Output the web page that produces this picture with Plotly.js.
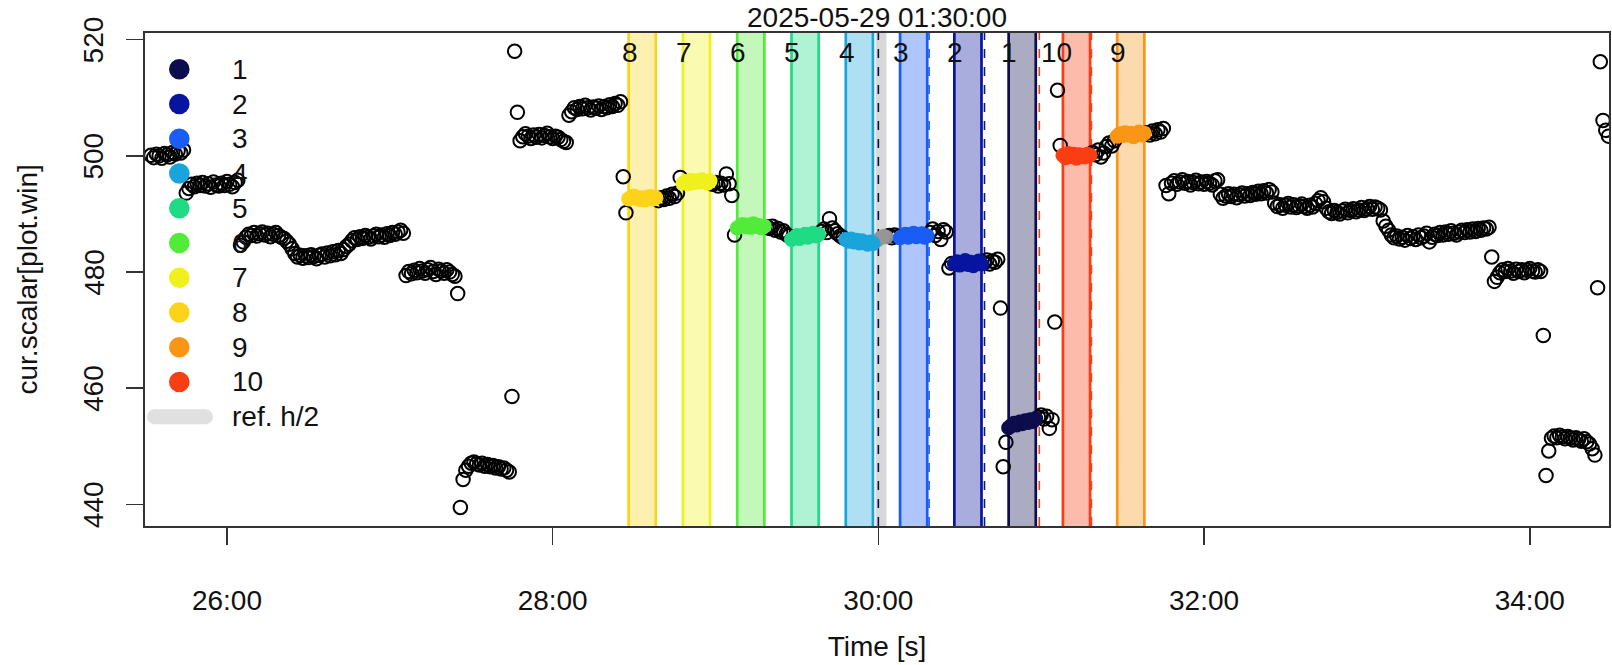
<!DOCTYPE html>
<html>
<head>
<meta charset="utf-8">
<script src="https://cdn.plot.ly/plotly-3.0.1.min.js"></script>
<style>html,body{margin:0;padding:0;background:#fff;}#chart{width:1612px;height:665px;}</style>
</head>
<body>
<div id="chart"></div>
<script>
// ---------------- DATA ----------------
const refTimeLabel = "2025-05-29 01:30:00";
// sample segments: start second (relative to 01:30:00), one sample per second
const segStartSec = [-268,-255,-235,-216,-195,-174,-155,-152,-135,-132,-114,-94,-92,-81,-72,-61,-52,-41,-32,-21,-12,-1,4,8,19,28,39,45,48,59,65,68,79,88,99,106,126,146,165,186,226,227,245,248,265];
const segValues = [
  [500.1,499.7,500.3,500.0,499.6,500.4,500.2,499.8,500.6,500.3,500.9,500.5,501.0],
  [493.6,494.4,495.1,494.7,495.3,494.9,495.4,494.8,495.2,494.6,495.5,495.0,494.8,495.3,494.9,495.6,495.1,494.7,495.4,495.8],
  [484.6,485.2,486.0,486.5,486.3,486.8,486.2,486.6,486.9,486.4,486.7,486.1,486.5,486.8,486.3,486.0,485.8,485.3,484.8],
  [484.0,483.2,482.6,482.9,482.4,482.8,482.5,483.0,482.7,482.3,482.9,483.1,482.6,483.3,482.8,483.5,483.0,483.7,483.2,483.9,484.4],
  [484.8,485.4,485.9,485.6,486.1,485.8,486.3,486.0,485.7,486.2,486.5,486.1,486.4,486.0,486.6,486.3,486.8,486.5,486.9,487.2,486.7],
  [479.4,480.1,479.7,480.3,479.9,480.6,480.2,479.8,480.4,480.8,480.1,479.6,480.5,480.2,479.8,480.4,480.0,479.6,479.3],
  [476.3,439.5,444.3],
  [445.9,446.6,447.1,447.3,447.0,446.8,447.1,446.6,446.9,446.5,446.7,446.3,446.5,446.1,446.3,445.9,445.6],
  [458.6,518.0,507.5],
  [502.6,503.3,503.8,503.4,503.0,503.6,503.2,503.7,503.1,503.5,503.9,503.3,503.0,503.4,503.2,502.8,502.5,502.3],
  [507.0,507.6,508.3,508.0,508.5,508.1,508.7,508.3,507.9,508.4,508.2,508.6,508.0,508.5,508.3,508.8,508.5,509.0,508.7,509.3],
  [496.4,490.2],
  [492.6,492.9,493.1,492.7,492.5,492.8,492.4,492.9,493.0,492.6,492.8],
  [492.3,492.8,492.5,493.1,492.7,493.4,493.0,493.6,496.3],
  [495.3,495.6,495.2,495.8,495.4,495.7,495.5,495.9,495.6,495.3,495.7],
  [495.1,495.4,494.8,495.3,495.0,496.9,495.2,493.2,486.4],
  [487.6,487.9,488.2,487.8,488.1,487.7,488.3,487.9,488.0,487.6,487.9],
  [487.8,487.5,487.9,487.2,487.5,486.9,487.1,486.5,486.2],
  [485.6,485.9,486.3,485.8,486.1,486.5,486.0,486.4,486.7,486.2,486.5],
  [487.0,487.4,486.8,489.2,487.6,487.1,486.6,486.2,485.9],
  [485.6,485.3,485.7,485.2,485.5,485.0,485.4,485.1,484.8,485.2,484.9],
  [485.3,485.6,485.9,486.2,486.0],
  [486.3,485.9,486.4,486.1],
  [485.9,486.2,486.5,486.0,486.4,486.7,486.1,486.3,486.6,486.0,486.2],
  [486.8,487.4,486.3,487.0,485.6,487.3,486.9,480.7,481.5],
  [481.4,481.8,481.2,481.6,482.0,481.3,481.7,481.1,481.5,481.9,481.4],
  [481.6,482.1,481.4,481.9,481.7,482.2],
  [473.8,446.5,450.7],
  [453.2,453.6,454.0,453.7,454.2,453.9,454.4,454.1,454.6,454.3,454.8],
  [455.0,455.4,454.7,455.2,453.1,454.6],
  [471.4,511.3,501.8],
  [500.1,499.7,500.4,499.9,500.3,499.6,500.2,500.0,499.8,500.3,500.1],
  [500.6,500.2,501.0,499.8,500.5,501.6,502.2,501.7,502.6],
  [503.4,503.8,503.5,504.0,503.6,503.9,503.3,503.7,504.1,503.6,503.9],
  [504.0,503.6,504.3,503.8,504.5,504.1,504.7],
  [494.9,493.5,495.3,495.7,495.1,495.5,495.9,495.3,495.6,495.0,495.4,495.8,495.2,495.5,495.1,495.6,495.3,495.0,495.7,495.9],
  [493.4,492.7,493.1,493.5,493.0,493.4,492.8,493.3,493.6,493.1,493.5,493.2,493.7,493.4,493.9,493.5,494.0,493.6,494.2,493.8],
  [491.9,491.3,491.6,491.0,491.5,491.8,491.2,491.6,491.1,491.4,491.7,491.3,491.0,491.5,491.2,491.8,492.3,492.8,492.1],
  [491.0,490.4,490.1,490.6,490.3,490.0,490.5,490.8,490.2,490.6,490.9,490.4,490.7,491.1,490.6,490.9,491.3,490.8,491.2,491.0,490.7],
  [488.8,487.9,487.2,486.4,485.9,486.2,485.7,486.0,485.5,486.3,485.8,486.1,485.6,486.4,485.9,486.2,486.7,485.2,486.0,486.5,486.3,486.8,486.4,486.9,486.5,487.1,486.7,486.4,486.9,487.2,486.8,487.3,486.9,487.4,487.0,487.5,487.2,487.6,487.4,487.7],
  [482.6],
  [478.4,479.1,479.9,480.4,480.1,480.6,480.2,479.8,480.5,480.1,480.4,479.9,480.3,480.6,480.2,480.0,480.4,480.1],
  [469.1,445.0,449.2],
  [451.4,451.8,451.5,451.9,451.6,451.3,451.7,451.4,451.1,451.5,451.2,450.9,451.3,450.8,450.4,449.6,448.5],
  [477.3,516.2,506.1,504.4,503.4]
];
// analysis windows (numbered), start second relative to 01:30:00, 10 s long
const bandIds = [8,7,6,5,4,3,2,1,10,9];
const bandStartSec = [-92,-72,-52,-32,-12,8,28,48,68,88];
const bandLengthSec = 10;
const bandColors = {1:"#0D0D4D",2:"#0714A0",3:"#1A5CF6",4:"#19A4DB",5:"#1EDB84",6:"#52EB3A",7:"#F0F01E",8:"#FDD31A",9:"#FA9516",10:"#FA3D12"};
// reference half-height window and dashed markers
const refWindowSec = [-1, 3];
const dashedMarkSec = [0, 18.7, 39.1, 59.3, 78.5];
const dashedMarkIds = [1, 3, 2, 10, 10];
const legendLabels = ["1","2","3","4","5","6","7","8","9","10"];
const xTickSec = [-240,-120,0,120,240];
const xTickLabels = ["26:00","28:00","30:00","32:00","34:00"];
const yTickVals = [440,460,480,500,520];
const xRangeSec = [-270.2, 269.2];
const yRange = [436.3, 521.15];

// ---------------- HELPERS ----------------
function ts(t){
  const tot = 1800 + t;
  const mm = Math.floor(tot/60);
  let ss = Math.round((tot - mm*60)*1000)/1000;
  return "2025-05-29 01:" + String(mm).padStart(2,"0") + ":" + (ss<10?"0":"") + ss;
}
const FONT = "Liberation Sans, Arial, Helvetica, sans-serif";

// build samples
const black = {x:[], y:[]};
const ref = {x:[], y:[]};
const perBand = {};
bandIds.forEach(id => perBand[id] = {x:[], y:[]});
segStartSec.forEach((s, i) => {
  segValues[i].forEach((v, k) => {
    const t = s + k;
    let bi = -1;
    bandStartSec.forEach((b, j) => { if (t >= b && t <= b + bandLengthSec) bi = j; });
    if (bi >= 0) { perBand[bandIds[bi]].x.push(ts(t)); perBand[bandIds[bi]].y.push(v); }
    else if (t >= refWindowSec[0] && t <= refWindowSec[1]) { ref.x.push(ts(t)); ref.y.push(v); }
    else { black.x.push(ts(t)); black.y.push(v); }
  });
});

const traces = [];
traces.push({type:"scatter", mode:"markers", x:black.x, y:black.y, showlegend:false, hoverinfo:"skip",
  marker:{symbol:"circle-open", size:13.5, color:"#000", line:{width:2, color:"#000"}}});
traces.push({type:"scatter", mode:"markers", x:ref.x, y:ref.y, showlegend:false, hoverinfo:"skip",
  marker:{symbol:"circle", size:14.5, color:"rgba(150,150,150,0.9)"}});
bandIds.forEach(id => {
  traces.push({type:"scatter", mode:"markers", x:perBand[id].x, y:perBand[id].y, showlegend:false, hoverinfo:"skip",
    marker:{symbol:"circle", size:15, color:bandColors[id]}});
});

// shapes: windows
const shapes = [];
bandIds.forEach((id, j) => {
  const s = bandStartSec[j], e = s + bandLengthSec;
  shapes.push({type:"rect", xref:"x", yref:"paper", x0:ts(s), x1:ts(e), y0:0, y1:1, fillcolor:bandColors[id], opacity:0.35, line:{width:0}, layer:"below"});
  [s, e].forEach(t => shapes.push({type:"line", xref:"x", yref:"paper", x0:ts(t), x1:ts(t), y0:0, y1:1, line:{color:bandColors[id], width:2.7}, layer:"below"}));
});
shapes.push({type:"rect", xref:"x", yref:"paper", x0:ts(refWindowSec[0]), x1:ts(refWindowSec[1]), y0:0, y1:1, fillcolor:"#D4D4D4", opacity:0.9, line:{width:0}, layer:"below"});
dashedMarkSec.forEach((t, i) => {
  shapes.push({type:"line", xref:"x", yref:"paper", x0:ts(t), x1:ts(t), y0:0, y1:1, line:{color:bandColors[dashedMarkIds[i]], width:1.6, dash:"dash"}, layer:"below"});
});

// legend (drawn manually, inside plot top-left)
const PL = 145, PR = 1609, PT = 33, PB = 526;
const px2x = p => (p - PL) / (PR - PL);
const px2y = p => (PB - p) / (PB - PT);
const annotations = [];
legendLabels.forEach((lab, i) => {
  const cy = 69.3 + i * 34.74;
  shapes.push({type:"circle", xref:"paper", yref:"paper", xsizemode:"pixel", ysizemode:"pixel",
    xanchor:px2x(179.3), yanchor:px2y(cy), x0:-10.3, x1:10.3, y0:-10.3, y1:10.3,
    fillcolor:bandColors[+lab], line:{width:0}, layer:"above"});
  annotations.push({xref:"paper", yref:"paper", x:px2x(230), y:px2y(cy), xanchor:"left", yanchor:"middle",
    text:lab, showarrow:false, font:{family:FONT, size:28, color:"#111"}});
});
{
  const cy = 69.3 + 10 * 34.74;
  shapes.push({type:"line", xref:"paper", yref:"paper", x0:px2x(154.5), x1:px2x(205.5), y0:px2y(cy), y1:px2y(cy), line:{color:"#E0E0E0", width:15}, layer:"above"});
  [154.5, 205.5].forEach(p => shapes.push({type:"circle", xref:"paper", yref:"paper", xsizemode:"pixel", ysizemode:"pixel",
    xanchor:px2x(p), yanchor:px2y(cy), x0:-7.5, x1:7.5, y0:-7.5, y1:7.5, fillcolor:"#E0E0E0", line:{width:0}, layer:"above"}));
  annotations.push({xref:"paper", yref:"paper", x:px2x(230), y:px2y(cy), xanchor:"left", yanchor:"middle",
    text:"ref. h/2", showarrow:false, font:{family:FONT, size:28, color:"#111"}});
}
// window labels
bandIds.forEach((id, j) => {
  annotations.push({xref:"x", yref:"paper", x:ts(bandStartSec[j] + 4), y:px2y(52.7), xanchor:"right", yanchor:"middle",
    text:String(id), showarrow:false, font:{family:FONT, size:28, color:"#111"}});
});
// y tick labels (R-style, parallel to axis) placed through the y scale
yTickVals.forEach(v => {
  annotations.push({xref:"paper", yref:"y", x:px2x(93.7), y:v, xanchor:"center", yanchor:"middle", textangle:-90,
    text:String(v), showarrow:false, font:{family:FONT, size:28, color:"#111"}});
});
// y axis title
annotations.push({xref:"paper", yref:"paper", x:px2x(27), y:0.5, xanchor:"center", yanchor:"middle", textangle:-90,
  text:"cur.scalar[plot.win]", showarrow:false, font:{family:FONT, size:28, color:"#111"}});

const axisCommon = {showgrid:false, zeroline:false, showline:true, mirror:true, linecolor:"#333", linewidth:1.6,
  ticks:"outside", ticklen:17, tickwidth:1.6, tickcolor:"#333", tickfont:{family:FONT, size:28, color:"#111"}};

const layout = {
  width:1612, height:665,
  margin:{l:PL, r:1612-PR, t:PT, b:665-PB},
  paper_bgcolor:"#fff", plot_bgcolor:"#fff",
  showlegend:false,
  title:{text:refTimeLabel, x:0.5, xref:"paper", xanchor:"center", y:1-16.7/665, yref:"container", yanchor:"middle",
    font:{family:FONT, size:28, color:"#111"}},
  xaxis:Object.assign({}, axisCommon, {type:"date", range:[ts(xRangeSec[0]), ts(xRangeSec[1])],
    tickmode:"array", tickvals:xTickSec.map(ts), ticktext:xTickLabels, ticklabelstandoff:32,
    title:{text:"Time [s]", font:{family:FONT, size:28, color:"#111"}, standoff:21}}),
  yaxis:Object.assign({}, axisCommon, {range:yRange, tickmode:"array", tickvals:yTickVals, showticklabels:false}),
  shapes:shapes, annotations:annotations
};

Plotly.newPlot("chart", traces, layout, {displayModeBar:false, staticPlot:true});
</script>
</body>
</html>
